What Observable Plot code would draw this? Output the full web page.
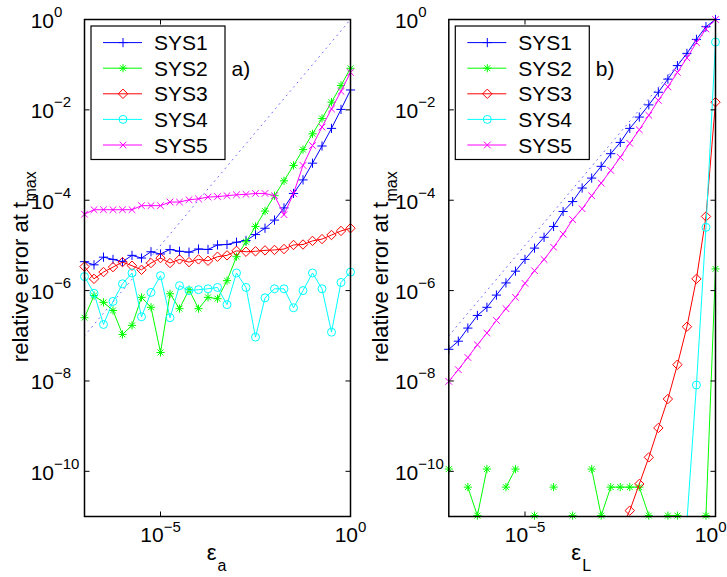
<!DOCTYPE html>
<html>
<head>
<meta charset="utf-8">
<script src="https://cdn.jsdelivr.net/npm/d3@7"></script>
<script src="https://cdn.jsdelivr.net/npm/@observablehq/plot@0.6"></script>
<style>
  body { margin: 0; background: #fff; }
  #chart { position: relative; width: 727px; height: 577px; overflow: hidden;
           font-family: "Liberation Sans", Arial, Helvetica, sans-serif; background: #fff; }
  #chart svg { position: absolute; top: 0; }
</style>
</head>
<body>
<div id="chart"></div>
<script>
// ---------------- data (log10 values) ----------------
const epsExp = [-7, -6.75, -6.5, -6.25, -6, -5.75, -5.5, -5.25, -5, -4.75, -4.5, -4.25, -4, -3.75,
  -3.5, -3.25, -3, -2.75, -2.5, -2.25, -2, -1.75, -1.5, -1.25, -1, -0.75, -0.5, -0.25, 0];

const seriesNames = ["SYS1", "SYS2", "SYS3", "SYS4", "SYS5"];
const seriesColors = ["#0000ff", "#00ff00", "#ff0000", "#00ffff", "#ff00ff"];

// panel a) : relative error (log10) vs eps_a
const aSYS1 = [-5.36, -5.43, -5.26, -5.31, -5.36, -5.22, -5.28, -5.14, -5.19, -5.09, -5.13, -5.15, -5.08, -5.09,
  -4.99, -4.98, -4.93, -4.89, -4.76, -4.62, -4.44, -4.17, -3.85, -3.55, -3.18, -2.80, -2.41, -1.99, -1.56];
const aSYS2 = [-6.60, -6.11, -6.26, -6.44, -6.97, -6.77, -6.15, -6.37, -7.37, -6.07, -6.40, -5.98, -6.40, -6.15,
  -6.18, -5.78, -5.25, -4.92, -4.58, -4.24, -3.90, -3.57, -3.23, -2.88, -2.53, -2.19, -1.83, -1.46, -1.08];
const aSYS3 = [-5.47, -5.74, -5.59, -5.48, -5.37, -5.45, -5.54, -5.39, -5.28, -5.39, -5.31, -5.37, -5.31, -5.34,
  -5.25, -5.22, -5.12, -5.14, -5.13, -5.11, -5.10, -5.08, -4.99, -4.98, -4.90, -4.86, -4.77, -4.68, -4.62];
const aSYS4 = [-5.69, -6.06, -6.75, -6.24, -5.85, -5.61, -6.58, -6.04, -5.67, -6.60, -5.89, -6.00, -5.98, -5.96,
  -5.93, -6.31, -5.61, -5.93, -7.03, -6.16, -5.96, -5.96, -6.38, -6.00, -5.61, -5.96, -6.92, -5.82, -5.59];
const aSYS5 = [-4.31, -4.21, -4.21, -4.21, -4.21, -4.21, -4.12, -4.12, -4.12, -4.04, -4.04, -3.99, -3.97, -3.93,
  -3.92, -3.90, -3.88, -3.87, -3.85, -3.85, -3.90, -4.32, -3.85, -3.23, -2.79, -2.38, -1.98, -1.59, -1.17];

// panel b) : relative error (log10) vs eps_L   (null = no value drawn)
const bSYS1 = [-7.30, -7.12, -6.83, -6.55, -6.37, -6.10, -5.83, -5.57, -5.31, -5.06, -4.82, -4.58, -4.25, -4.03,
  -3.73, -3.51, -3.25, -2.97, -2.72, -2.41, -2.16, -1.89, -1.61, -1.32, -1.02, -0.75, -0.44, -0.16, 0.0];
const bSYS2 = [-9.95, null, -10.35, -10.98, -9.95, null, -10.35, -9.95, null, -10.98, null, -10.35, null, -10.98,
  null, -9.95, -10.98, -10.35, -10.35, -10.35, -10.35, -10.98, null, -10.98, -10.98, null, null, -10.98, -5.52];
const bSYS3 = [null, null, null, null, null, null, null, null, null, null, null, null, null, null,
  null, null, null, null, -11.3, -10.87, -10.28, -9.69, -9.04, -8.40, -7.64, -6.80, -5.74, -4.36, -1.83];
const bSYS4 = [null, null, null, null, null, null, null, null, null, null, null, null, null, null,
  null, null, null, null, null, null, null, null, null, null, null, -11.1, -8.09, -4.60, -0.50];
const bSYS5 = [-8.01, -7.75, -7.48, -7.20, -6.94, -6.66, -6.40, -6.15, -5.84, -5.56, -5.31, -5.04, -4.75, -4.43,
  -4.19, -3.90, -3.62, -3.34, -3.05, -2.74, -2.44, -2.12, -1.79, -1.49, -1.17, -0.85, -0.51, -0.21, 0.0];

// dotted reference line: error = eps
const refEps = [1e-7, 1];
const refErr = [1e-7, 1];

const yTickExp = [0, -2, -4, -6, -8, -10];
const xTickExp = [-5, 0];
const panelTags = ["a)", "b)"];
const xLabelSubs = ["a", "L"];
const yLabelMain = "relative error at t";
const yLabelSub = "max";
const xLabelMain = "ε";

// ---------------- symbols ----------------
const rad = s => Math.sqrt(s / Math.PI);
const symPlus = {draw(c, s) { const r = rad(s); c.moveTo(-r, 0); c.lineTo(r, 0); c.moveTo(0, -r); c.lineTo(0, r); }};
const symTimes = {draw(c, s) { const r = rad(s); c.moveTo(-r, -r); c.lineTo(r, r); c.moveTo(-r, r); c.lineTo(r, -r); }};
const symDiamond = {draw(c, s) { const r = rad(s); c.moveTo(0, -r); c.lineTo(r, 0); c.lineTo(0, r); c.lineTo(-r, 0); c.closePath(); }};
const symCircle = {draw(c, s) { const r = rad(s); c.moveTo(r, 0); c.arc(0, 0, r, 0, 2 * Math.PI); c.closePath(); }};
const tickSym = (dx, dy) => ({draw(c, s) { const r = rad(s); c.moveTo(0, 0); c.lineTo(dx * r, dy * r); }});

const markerSpecs = [
  [[symPlus, 4.6]],
  [[symPlus, 4.1], [symTimes, 2.9]],
  [[symDiamond, 4.7]],
  [[symCircle, 4.0]],
  [[symTimes, 3.3]]
];

// ---------------- text measuring ----------------
const mctx = document.createElement("canvas").getContext("2d");
function textW(str, size) {
  mctx.font = `${size}px "Liberation Sans", Arial, sans-serif`;
  return mctx.measureText(str).width;
}
const supStr = e => e === 0 ? "0" : "−" + (-e);

const FONT = 21, SUP = 15, SUB = 16, LAB = 22;

const panels = [
  {left: 0, width: 363, ml: 84, mr: 13, data: [aSYS1, aSYS2, aSYS3, aSYS4, aSYS5], tag: panelTags[0], sub: xLabelSubs[0], ylabDx: -64},
  {left: 363, width: 364, ml: 85.3, mr: 12, data: [bSYS1, bSYS2, bSYS3, bSYS4, bSYS5], tag: panelTags[1], sub: xLabelSubs[1], ylabDx: -67.5}
];

const chart = document.getElementById("chart");
const MT = 19, MB = 61, HEIGHT = 577;
const Y_MIN = 1e-11;

panels.forEach((p, pi) => {
  const marks = [];
  // reference dotted line
  const refRows = refEps.map((x, i) => ({x, y: refErr[i]}));
  marks.push(Plot.line(refRows, {x: "x", y: "y", stroke: "#2a2aff", strokeOpacity: 0.7, strokeWidth: 1,
    strokeDasharray: "1,4.6", clip: true}));
  // series
  p.data.forEach((arr, k) => {
    const rows = epsExp.map((e, i) => ({x: 10 ** e, y: arr[i] == null ? NaN : 10 ** arr[i]}));
    marks.push(Plot.line(rows, {x: "x", y: "y", stroke: seriesColors[k], strokeWidth: 1, clip: true}));
    const visible = rows.filter(d => d.y >= Y_MIN * 0.999);
    markerSpecs[k].forEach(([sym, r]) => {
      marks.push(Plot.dot(visible, {x: "x", y: "y", symbol: sym, r, fill: "none", stroke: seriesColors[k],
        strokeWidth: 1}));
    });
  });
  // frame & inward ticks
  marks.push(Plot.frame({stroke: "black", strokeWidth: 1.5}));
  const yT = yTickExp.map(e => 10 ** e);
  const xT = xTickExp.map(e => 10 ** e);
  marks.push(Plot.dot(yT, {y: d => d, frameAnchor: "left", symbol: tickSym(1, 0), r: 5, fill: "none", stroke: "black", strokeWidth: 1}));
  marks.push(Plot.dot(yT, {y: d => d, frameAnchor: "right", symbol: tickSym(-1, 0), r: 5, fill: "none", stroke: "black", strokeWidth: 1}));
  marks.push(Plot.dot(xT, {x: d => d, frameAnchor: "bottom", symbol: tickSym(0, -1), r: 5, fill: "none", stroke: "black", strokeWidth: 1}));
  marks.push(Plot.dot(xT, {x: d => d, frameAnchor: "top", symbol: tickSym(0, 1), r: 5, fill: "none", stroke: "black", strokeWidth: 1}));
  // y tick labels
  marks.push(Plot.text(yTickExp, {y: e => 10 ** e, text: () => "10", frameAnchor: "left", textAnchor: "end",
    dx: -30.5, dy: 1.6, fontSize: FONT, fill: "black"}));
  marks.push(Plot.text(yTickExp, {y: e => 10 ** e, text: e => supStr(e), frameAnchor: "left", textAnchor: "start",
    dx: -30.5, dy: -7.3, fontSize: SUP, fill: "black"}));
  // x tick labels
  xTickExp.forEach(e => {
    const tw = textW("10", FONT), sw = textW(supStr(e), SUP);
    let endX = (tw - sw) / 2;
    // keep the last label of the right panel inside the page
    if (pi === panels.length - 1 && e === 0) endX = Math.min(endX, p.mr - sw - 1);
    marks.push(Plot.text([e], {x: d => 10 ** d, text: () => "10", frameAnchor: "bottom", textAnchor: "end",
      dx: endX, dy: 25.6, fontSize: FONT, fill: "black"}));
    marks.push(Plot.text([e], {x: d => 10 ** d, text: d => supStr(d), frameAnchor: "bottom", textAnchor: "start",
      dx: endX, dy: 15.6, fontSize: SUP, fill: "black"}));
  });
  // x label
  marks.push(Plot.text([xLabelMain], {text: d => d, frameAnchor: "bottom", textAnchor: "end", dx: -1, dy: 43.7,
    fontSize: LAB, fill: "black"}));
  marks.push(Plot.text([p.sub], {text: d => d, frameAnchor: "bottom", textAnchor: "start", dx: 0, dy: 54.2,
    fontSize: SUB, fill: "black"}));
  // y label
  marks.push(Plot.text([yLabelMain], {text: d => d, frameAnchor: "left", rotate: -90, textAnchor: "end",
    dx: p.ylabDx, dy: -66, fontSize: LAB, fill: "black"}));
  marks.push(Plot.text([yLabelSub], {text: d => d, frameAnchor: "left", rotate: -90, textAnchor: "start",
    dx: p.ylabDx + 10.5, dy: -66.5, fontSize: SUB, fill: "black"}));
  // panel tag
  marks.push(Plot.text([p.tag], {text: d => d, frameAnchor: "top-left", textAnchor: "start", dx: 147, dy: 42,
    fontSize: FONT, fill: "black"}));

  const svg = Plot.plot({
    width: p.width, height: HEIGHT,
    marginLeft: p.ml, marginRight: p.mr, marginTop: MT, marginBottom: MB,
    x: {type: "log", domain: [1e-7, 1], axis: null},
    y: {type: "log", domain: [Y_MIN, 1], axis: null},
    style: {fontFamily: '"Liberation Sans", Arial, Helvetica, sans-serif', background: "transparent", overflow: "visible"},
    marks
  });
  svg.style.left = p.left + "px";
  chart.appendChild(svg);

  // legend box (pixel layout inside the panel's top-left)
  const g = d3.select(svg).append("g");
  const bx = p.ml + 7, by = 26, bw = 134, bh = 133.5;
  g.append("rect").attr("x", bx).attr("y", by).attr("width", bw).attr("height", bh)
    .attr("fill", "white").attr("stroke", "black").attr("stroke-width", 1.2);
  seriesNames.forEach((name, k) => {
    const cy = by + 16.6 + k * 25.6;
    g.append("line").attr("x1", p.ml + 19).attr("x2", p.ml + 58).attr("y1", cy).attr("y2", cy)
      .attr("stroke", seriesColors[k]).attr("stroke-width", 1);
    markerSpecs[k].forEach(([sym, r]) => {
      g.append("path").attr("d", d3.symbol(sym, Math.PI * r * r)())
        .attr("transform", `translate(${p.ml + 39},${cy})`)
        .attr("fill", "none").attr("stroke", seriesColors[k]).attr("stroke-width", 1);
    });
    g.append("text").attr("x", p.ml + 70).attr("y", cy).attr("dy", "0.36em")
      .attr("text-anchor", "start").attr("font-size", FONT).attr("fill", "black").text(name);
  });
});
</script>
</body>
</html>
